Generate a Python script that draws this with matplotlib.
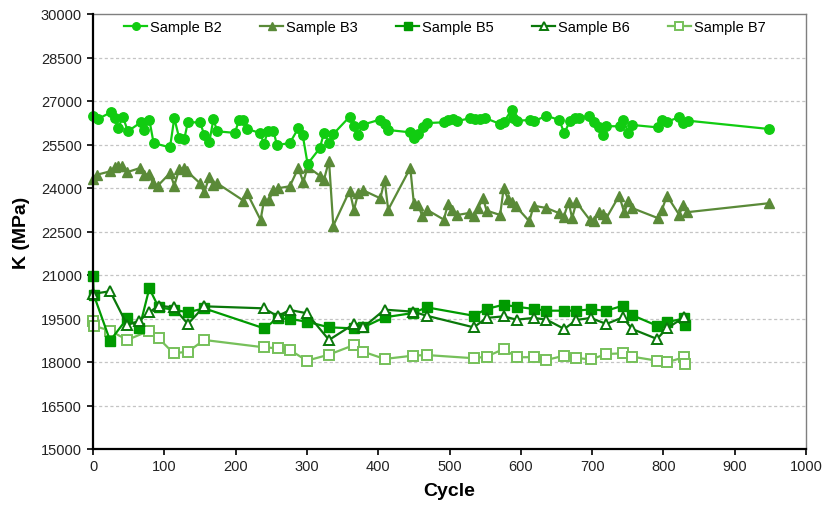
import matplotlib
matplotlib.use("Agg")
import matplotlib.pyplot as plt

plt.rcParams['font.family'] = ['Liberation Sans', 'DejaVu Sans']

# ---- data ----
b2_cycle = [0, 7, 25, 31, 35, 42, 49, 67, 72, 79, 85, 108, 114, 121, 128, 133, 150, 156, 163, 169,
            174, 199, 205, 211, 216, 234, 240, 245, 253, 258, 276, 288, 294, 301, 318, 324, 331, 337,
            360, 366, 372, 378, 402, 409, 414, 445, 450, 456, 463, 469, 492, 498, 505, 510, 529, 536,
            543, 550, 571, 576, 587, 589, 595, 613, 618, 636, 654, 661, 669, 676, 681, 696, 703, 709,
            715, 720, 739, 744, 751, 756, 792, 798, 805, 822, 828, 835, 948]
b2_k = [26490, 26380, 26610, 26410, 26060, 26440, 25955, 26265, 26000, 26355, 25550, 25400, 26410,
        25710, 25690, 26265, 26265, 25840, 25575, 26380, 25955, 25900, 26355, 26355, 26035, 25900,
        25520, 25955, 25975, 25480, 25550, 26060, 25840, 24830, 25370, 25900, 25550, 25860, 26460,
        26130, 25840, 26180, 26355, 26210, 26000, 25920, 25710, 25860, 26090, 26240, 26265, 26345,
        26380, 26300, 26410, 26380, 26380, 26410, 26210, 26265, 26690, 26410, 26320, 26345, 26300,
        26490, 26345, 25885, 26320, 26400, 26400, 26490, 26265, 26090, 25830, 26130, 26130, 26355,
        25885, 26175, 26090, 26355, 26285, 26440, 26240, 26320, 26035]

b3_cycle = [0, 6, 24, 31, 35, 40, 47, 66, 72, 78, 84, 91, 108, 114, 121, 127, 132, 150, 156, 163,
            169, 174, 211, 216, 235, 240, 247, 253, 259, 276, 288, 295, 301, 318, 324, 331, 337, 360,
            366, 372, 378, 403, 409, 414, 445, 450, 456, 462, 469, 492, 498, 504, 511, 528, 534, 540,
            547, 552, 571, 576, 582, 587, 593, 612, 618, 636, 654, 660, 667, 672, 678, 697, 703, 709,
            715, 720, 738, 745, 751, 756, 792, 798, 805, 822, 828, 833, 948]
b3_k = [24310, 24460, 24575, 24735, 24770, 24750, 24540, 24690, 24450, 24485, 24165, 24080, 24515,
        24080, 24655, 24680, 24575, 24165, 23850, 24370, 24115, 24165, 23565, 23830, 22900, 23585,
        23585, 23930, 23990, 24060, 24690, 24200, 24735, 24425, 24290, 24940, 22700, 23910, 23240,
        23830, 23930, 23645, 24275, 23250, 24690, 23475, 23415, 23025, 23240, 22910, 23450, 23240,
        23070, 23140, 23025, 23300, 23655, 23220, 23070, 24000, 23620, 23510, 23370, 22850, 23390,
        23310, 23130, 22990, 23510, 22965, 23510, 22895, 22850, 23165, 23105, 22965, 23735, 23165,
        23540, 23310, 22965, 23250, 23735, 23080, 23415, 23165, 23475]

b5_cycle = [0, 1, 24, 48, 65, 79, 92, 113, 133, 156, 240, 259, 276, 300, 331, 366, 379, 409, 449,
            468, 534, 552, 576, 594, 618, 636, 661, 678, 698, 720, 743, 756, 791, 805, 829, 830]
b5_k = [20955, 20320, 18735, 19505, 19160, 20540, 19885, 19805, 19715, 19850, 19160, 19505, 19485,
        19390, 19195, 19160, 19195, 19540, 19690, 19885, 19595, 19830, 19975, 19905, 19830, 19770,
        19770, 19770, 19815, 19770, 19940, 19620, 19250, 19370, 19505, 19280]

b6_cycle = [0, 24, 48, 65, 79, 92, 113, 133, 156, 240, 259, 276, 300, 331, 366, 379, 409, 449, 468,
            534, 552, 576, 594, 618, 636, 661, 678, 698, 720, 743, 756, 791, 805, 829]
b6_k = [20350, 20440, 19275, 19425, 19715, 19940, 19885, 19310, 19920, 19850, 19575, 19795, 19680,
        18760, 19310, 19195, 19805, 19735, 19595, 19195, 19520, 19575, 19460, 19520, 19460, 19140,
        19450, 19520, 19310, 19540, 19140, 18795, 19160, 19540]

b7_cycle = [0, 1, 24, 48, 79, 92, 113, 133, 156, 240, 259, 276, 300, 331, 366, 379, 409, 449, 468,
            534, 552, 576, 594, 618, 636, 661, 678, 698, 720, 743, 756, 791, 805, 829, 830]
b7_k = [19425, 19250, 19080, 18760, 19080, 18820, 18300, 18355, 18760, 18505, 18475, 18415, 18045,
        18255, 18585, 18355, 18105, 18220, 18240, 18130, 18185, 18450, 18165, 18165, 18070, 18220,
        18140, 18090, 18275, 18300, 18185, 18045, 17990, 18165, 17930]

labels = ["Sample B2", "Sample B3", "Sample B5", "Sample B6", "Sample B7"]
y_ticks = [15000, 16500, 18000, 19500, 21000, 22500, 24000, 25500, 27000, 28500, 30000]
x_ticks = [0, 100, 200, 300, 400, 500, 600, 700, 800, 900, 1000]

# ---- figure ----
fig = plt.figure(figsize=(8.27, 5.06), dpi=100)
ax = fig.add_axes([93/827, 1 - 450/506, (806 - 93)/827, (450 - 15)/506])

c2, c3, c5, c6, c7 = '#11CC11', '#5A8A38', '#009A00', '#0A780A', '#76C05A'
lw = 1.6
ax.plot(b2_cycle, b2_k, color=c2, lw=lw, marker='o', ms=6.8, mfc=c2, mec=c2, label=labels[0], zorder=5, clip_on=False)
ax.plot(b3_cycle, b3_k, color=c3, lw=lw, marker='^', ms=7.2, mfc=c3, mec=c3, label=labels[1], zorder=4, clip_on=False)
ax.plot(b5_cycle, b5_k, color=c5, lw=lw, marker='s', ms=6.8, mfc=c5, mec=c5, label=labels[2], zorder=4, clip_on=False)
ax.plot(b6_cycle, b6_k, color=c6, lw=lw, marker='^', ms=7.2, mfc='white', mec=c6, mew=1.4, label=labels[3], zorder=5, clip_on=False)
ax.plot(b7_cycle, b7_k, color=c7, lw=lw, marker='s', ms=6.8, mfc='white', mec=c7, mew=1.4, label=labels[4], zorder=3, clip_on=False)

ax.set_xlim(0, 1000)
ax.set_ylim(15000, 30000)
ax.set_xticks(x_ticks)
ax.set_yticks(y_ticks)
ax.tick_params(axis='both', direction='out', length=4, width=1.2, labelsize=10.5, colors='black',
               labelcolor='#222222')
ax.tick_params(axis='y', pad=4)

for yv in y_ticks[1:-1]:
    ax.axhline(yv, color='#C4C4C4', lw=0.9, ls=(0, (2.5, 2)), zorder=1)

for s in ['left', 'bottom']:
    ax.spines[s].set_linewidth(1.6)
    ax.spines[s].set_color('black')
    ax.spines[s].set_zorder(6)
for s in ['top', 'right']:
    ax.spines[s].set_linewidth(1.0)
    ax.spines[s].set_color('#7F7F7F')

ax.set_xlabel("Cycle", fontsize=14, fontweight='bold', labelpad=6)
ax.set_ylabel("K (MPa)", fontsize=14, fontweight='bold', labelpad=8)

leg = fig.legend(loc='center', bbox_to_anchor=(445/827, 1 - 28/506), ncol=5, frameon=False,
                 fontsize=10.5, handlelength=1.6, handletextpad=0.2, columnspacing=2.6,
                 markerscale=0.8)

fig.savefig("out.png", dpi=100)
